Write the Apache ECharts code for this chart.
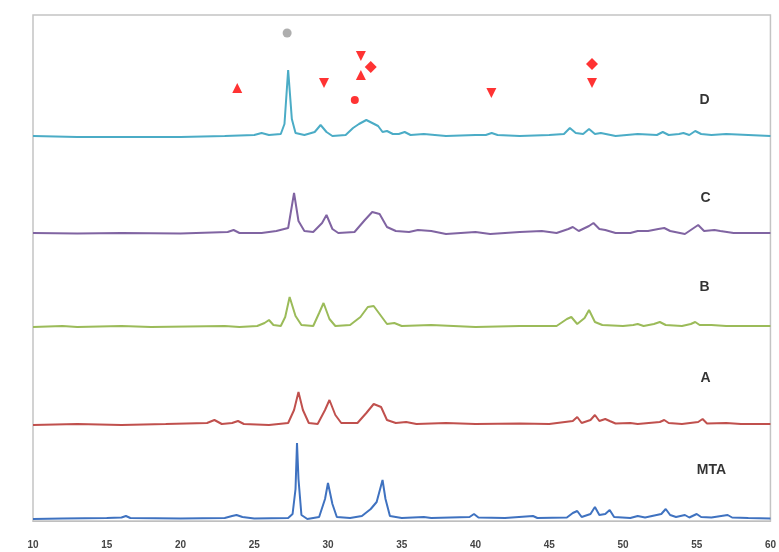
<!DOCTYPE html>
<html><head><meta charset="utf-8">
<script src="https://cdn.jsdelivr.net/npm/echarts@6/dist/echarts.min.js"></script>
<style>html,body{margin:0;padding:0;background:#fff}#c{width:779px;height:552px}</style>
</head><body><div id="c"></div>
<script>
// 2θ tick labels
const xTicks = [10, 15, 20, 25, 30, 35, 40, 45, 50, 55, 60];
// sample names (bottom to top) and baseline offsets (a.u.)
const sampleNames = ['MTA', 'A', 'B', 'C', 'D'];
const offsets = [4, 192, 388, 576, 770];
// intensities [2θ, counts above baseline]
const mtaData = [[10,0],[12,1],[15,2],[16,3],[16.3,6],[16.6,2],[20,1],[23,2],[23.5,6],[23.8,8],[24.2,4],[25,1],[27.3,2],[27.6,10],[27.8,60],[27.9,152],[28.0,80],[28.2,8],[28.6,0],[29.4,4],[29.8,40],[30.0,72],[30.3,30],[30.6,4],[31.5,2],[32.3,6],[32.9,20],[33.3,34],[33.7,78],[33.9,40],[34.2,6],[35,2],[36.5,4],[37,2],[39.6,4],[39.9,10],[40.2,3],[42,2],[43.9,6],[44.2,2],[46.2,3],[46.6,12],[46.9,16],[47.2,4],[47.8,10],[48.1,24],[48.4,8],[48.8,10],[49.1,18],[49.4,4],[50.5,2],[51,6],[51.5,3],[52.6,10],[52.9,20],[53.2,8],[53.6,4],[54.2,8],[54.5,3],[55.0,10],[55.3,4],[56,3],[57.1,8],[57.4,3],[58.5,2],[60,1]];
const aData = [[10,0],[13,2],[16,0],[19,2],[21.8,4],[22.3,10],[22.8,2],[23.5,4],[23.9,8],[24.3,2],[26,0],[27.3,4],[27.7,30],[28.0,66],[28.3,30],[28.7,4],[29.3,2],[29.8,30],[30.1,50],[30.5,20],[30.9,4],[32,4],[32.6,24],[33.1,42],[33.6,36],[34.0,10],[34.6,4],[35.3,6],[36,2],[38,4],[40,2],[43,3],[45,2],[46.6,8],[46.9,16],[47.2,4],[47.8,10],[48.1,20],[48.4,8],[48.8,12],[49.1,8],[49.5,3],[50.5,4],[51,2],[52.5,6],[52.8,10],[53.1,4],[54,2],[55.1,6],[55.4,12],[55.7,3],[57,4],[58,2],[60,2]];
const bData = [[10,0],[12,2],[13,0],[16,2],[18,0],[23,2],[24,0],[25.2,2],[25.7,8],[26.0,14],[26.3,4],[26.8,2],[27.1,20],[27.4,60],[27.8,22],[28.2,4],[29.0,2],[29.4,28],[29.7,48],[30.1,16],[30.5,2],[31.5,4],[32.2,20],[32.7,40],[33.1,42],[33.5,26],[34.0,6],[34.5,8],[35,2],[37,4],[40,0],[43,2],[45.5,2],[46.2,16],[46.5,20],[46.9,6],[47.4,18],[47.7,34],[48.1,10],[48.6,4],[50,2],[50.7,4],[51,6],[51.4,2],[52.1,6],[52.5,10],[52.9,4],[54,2],[54.6,6],[54.9,10],[55.2,4],[56,4],[57,2],[60,2]];
const cData = [[10,0],[13,-1],[16,0],[20,-1],[23.2,2],[23.6,6],[24.0,0],[25.5,0],[26.5,4],[27.3,10],[27.7,80],[28.0,24],[28.4,4],[29.0,2],[29.6,20],[29.9,36],[30.3,8],[30.7,0],[31.8,2],[32.5,26],[33.0,42],[33.5,38],[34.0,12],[34.6,4],[35.5,2],[36.1,6],[37,4],[38.0,-2],[40,2],[41.0,-2],[43,2],[44.5,4],[45.5,0],[46.3,8],[46.6,12],[47,4],[47.7,14],[48.0,20],[48.4,8],[48.8,6],[49.5,0],[50.5,0],[51,4],[51.7,4],[52.4,8],[52.8,10],[53.2,4],[54.2,-2],[54.8,10],[55.1,16],[55.5,4],[56.2,6],[56.6,4],[57.5,0],[60,0]];
const dData = [[10,0],[13,-2],[16,-2],[20,-2],[23,0],[25.0,2],[25.5,6],[26.0,2],[26.8,4],[27.05,24],[27.3,132],[27.55,34],[27.8,6],[28.4,2],[29.1,8],[29.5,22],[29.9,8],[30.3,0],[31.2,2],[31.7,16],[32.1,24],[32.6,32],[33.0,26],[33.4,20],[33.7,8],[34.0,10],[34.4,4],[34.8,4],[35.2,8],[35.6,2],[36.5,4],[38,0],[40,2],[40.7,2],[41.1,6],[41.5,2],[43,0],[45,2],[46.0,4],[46.4,16],[46.8,6],[47.3,4],[47.7,14],[48.1,4],[48.5,6],[49.5,0],[51,4],[52.3,2],[52.7,8],[53.1,2],[53.8,4],[54.1,6],[54.5,2],[54.9,10],[55.3,4],[56,2],[57,4],[60,0]];
// phase markers [2θ, a.u.]
const triUp = [[23.85,866],[32.23,892]];
const triDown = [[29.73,876],[32.23,930],[41.08,856],[47.9,876]];
const diamonds = [[32.9,908],[47.9,914]];
const dots = [[31.82,842]];
const grayMark = [[27.23,976]];
// sample label anchor points [2θ, a.u.]
const labelPos = [[56.0,102],[55.6,286],[55.54,468],[55.6,646],[55.54,842]];

const colors = ['#3f72c0', '#c0504d', '#9bbb59', '#8064a2', '#4bacc6'];
const traces = [mtaData, aData, bData, cData, dData];

const series = traces.map((d, i) => ({
  type: 'line', name: sampleNames[i], showSymbol: false, smooth: false,
  data: d.map(p => [p[0], p[1] + offsets[i]]),
  lineStyle: {color: colors[i], width: 2}, z: 2
}));
const mk = (data, symbol, size, rot, color) => ({
  type: 'scatter', data, symbol, symbolSize: size, symbolRotate: rot,
  itemStyle: {color}, z: 5
});
series.push(mk(triUp, 'triangle', 10, 0, '#ff0000'));
series.push(mk(triDown, 'triangle', 10, 180, '#ff0000'));
series.push(mk(diamonds, 'diamond', 12, 0, '#ff0000'));
series.push(mk(dots, 'circle', 8, 0, '#ff0000'));
series.push(mk(grayMark, 'circle', 9, 0, '#9a9a9a'));
series.push({
  type: 'scatter', symbolSize: 0, z: 6,
  data: labelPos.map((p, i) => ({value: p, name: sampleNames[i]})),
  label: {show: true, position: 'inside', formatter: p => p.name, color: '#000',
    fontWeight: 'bold', fontSize: 14, fontFamily: 'Liberation Sans Narrow, Liberation Sans, sans-serif'}
});

const chart = echarts.init(document.getElementById('c'), null, {renderer: 'canvas'});
chart.setOption({
  animation: false,
  grid: {left: 33, right: 5, top: 15, bottom: 31, show: true, borderColor: '#c4c4c4', borderWidth: 1.5},
  xAxis: {type: 'value', min: xTicks[0], max: xTicks[xTicks.length - 1], interval: 5,
    axisLine: {show: true, lineStyle: {color: '#bfbfbf'}}, axisTick: {show: false},
    splitLine: {show: false},
    axisLabel: {margin: 19, fontSize: 10, color: '#444', fontWeight: 'bold', fontFamily: 'Liberation Sans, sans-serif'}},
  yAxis: {type: 'value', min: 0, max: 1012, show: false, splitLine: {show: false}},
  series
});
</script></body></html>
